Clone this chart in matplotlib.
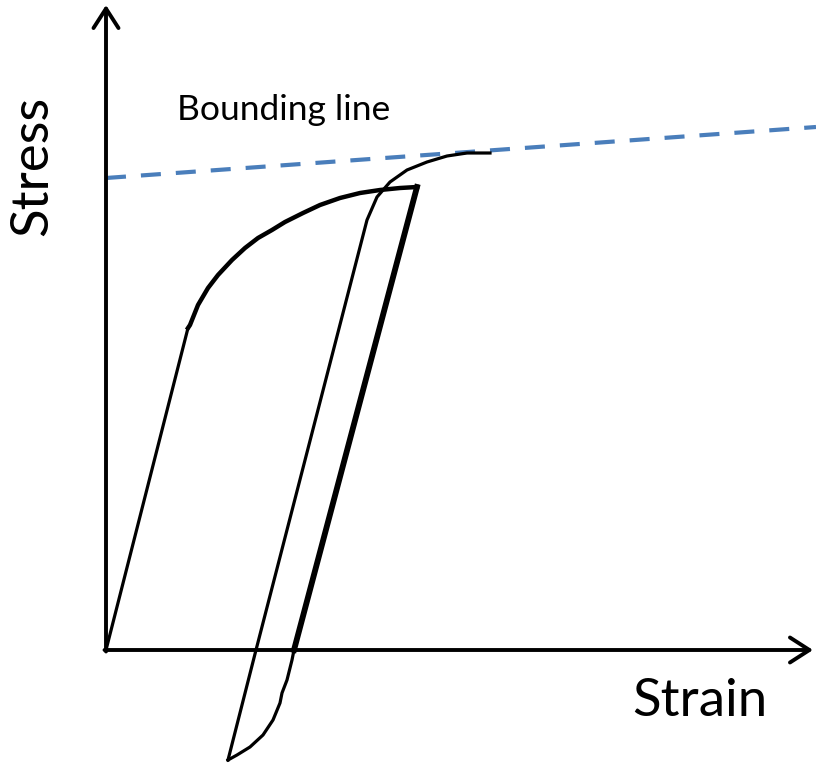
import matplotlib.pyplot as plt

# schematic values, origin of the axes at (0, 0)
elastic_strain = [0, 82]
elastic_stress = [0, 322]

hard_strain = [82, 84, 92, 102, 112, 126, 139, 152, 166, 179, 197, 214, 234, 254, 274, 294, 311]
hard_stress = [322, 325, 345, 362, 375, 390, 402, 412, 420, 428, 437, 445, 452, 457, 460, 462, 463]

unload_strain = [311, 188, 186, 181, 176, 174, 167, 157, 144, 131, 122]
unload_stress = [463, 0, -10, -30, -43, -53, -70, -85, -97, -105, -110]

reload_strain = [122, 150, 261, 271, 284, 301, 321, 341, 361, 384]
reload_stress = [-110, 0, 430, 453, 468, 480, 488, 494, 497, 497]

bound_strain = [0, 710]
bound_stress = [472, 523]

fig = plt.figure(figsize=(8.16, 7.67), dpi=100)
ax = fig.add_axes([0, 0, 1, 1])
ax.set_xlim(-106, 710)
ax.set_ylim(-117, 650)
ax.axis('off')

# axes arrows
arrow = dict(arrowstyle='->,head_length=0.7,head_width=0.45', lw=2.8, color='black',
             mutation_scale=20, shrinkA=0, shrinkB=0)
ax.annotate('', xy=(0, 645), xytext=(0, -1.5), arrowprops=arrow)
ax.annotate('', xy=(707, 0), xytext=(-1.5, 0), arrowprops=arrow)

# bounding line
ax.plot(bound_strain, bound_stress, color='#4a7ebb', lw=3, dashes=(4.8, 3.6))

ax.plot(elastic_strain, elastic_stress, color='black', lw=2.3, solid_capstyle='butt')
ax.plot(hard_strain, hard_stress, color='black', lw=3.2, solid_joinstyle='round')
ax.plot(unload_strain[:2], unload_stress[:2], color='black', lw=4.2)
ax.plot(unload_strain[1:], unload_stress[1:], color='black', lw=2.3, solid_joinstyle='round')
ax.plot(reload_strain, reload_stress, color='black', lw=2.3, solid_joinstyle='round')

ax.text(71, 530, 'Bounding line', fontsize=25.5, family='Lato', ha='left', va='baseline')
ax.text(-73, 484, 'Stress', fontsize=38, family='Lato', rotation=90, ha='center', va='center')
ax.text(594, -52, 'Strain', fontsize=38, family='Lato', ha='center', va='center')

fig.savefig('out.png', dpi=100)
